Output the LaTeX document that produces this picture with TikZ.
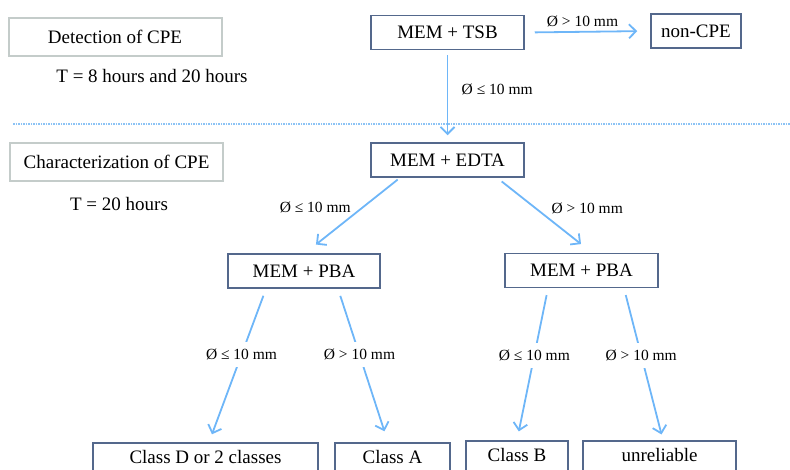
\documentclass[tikz,border=0pt]{standalone}
\usepackage{fontspec}
\setmainfont{Liberation Serif}
\usetikzlibrary{arrows.meta}

\definecolor{boxline}{RGB}{84,104,140}
\definecolor{tagline}{RGB}{196,204,202}
\definecolor{flow}{RGB}{110,182,248}
\definecolor{sepline}{RGB}{140,195,245}

\begin{document}
\begin{tikzpicture}[
  x=1pt, y=-1pt,
  font=\fontsize{19}{21}\selectfont,
  box/.style={
    draw=boxline,
    line width=1.5pt,
    minimum height=34pt,
    inner sep=2pt
  },
  tag/.style={draw=tagline, line width=2pt, minimum height=38pt},
  arrow/.style={-{Straight Barb[length=7pt,width=14pt]}, flow, line width=1.8pt},
  cond/.style={text=black, font=\fontsize{15.5}{17}\selectfont},
  gap/.style={cond, fill=white, inner xsep=1pt, inner ysep=7pt}
]
\useasboundingbox (0,0) rectangle (790,469);
\clip (0,0) rectangle (790,469);

% phases
\node[tag, minimum width=213pt] (detect) at (115,37) {Detection of CPE};
\node (tdetect) at (152,76) {T = 8 hours and 20 hours};
\node[tag, minimum width=213pt] (charac) at (116.5,162) {Characterization of CPE};
\node (tcharac) at (119,204) {T = 20 hours};
\draw[sepline, line width=1.5pt, densely dotted] (13,124) -- (790,124);

% media
\node[box, minimum width=153pt] (tsb) at (447.5,32.5) {MEM + TSB};
\node[box, minimum width=90pt] (noncpe) at (696,31) {non-CPE};
\node[box, minimum width=153pt] (edta) at (447.5,160) {MEM + EDTA};
\node[box, minimum width=152pt] (pbaL) at (304,271) {MEM + PBA};
\node[box, minimum width=153pt] (pbaR) at (581.5,270.5) {MEM + PBA};

% classes (the page cuts them at the bottom)
\node[box, minimum width=225pt, text depth=6pt] (classD) at (205.5,460) {Class D or 2 classes};
\node[box, minimum width=115pt, text depth=6pt] (classA) at (392.5,460) {Class A};
\node[box, minimum width=102pt, text depth=6pt] (classB) at (517,458) {Class B};
\node[box, minimum width=153pt, text depth=6pt] (unrel) at (659.5,458) {unreliable};

\draw[arrow, shorten <=10pt, shorten >=13pt] (tsb.east) -- node[cond, above=1pt, xshift=-5pt] {Ø > 10 mm} (noncpe.west);
\draw[arrow, shorten <=5pt, shorten >=7pt] (tsb.south) -- node[cond, right=10pt, pos=0.43] {Ø ≤ 10 mm} (edta.north);

\draw[arrow, shorten <=3pt, shorten >=14pt] ([xshift=-47.5pt]edta.south) -- node[cond, left=8pt, pos=0.39] {Ø ≤ 10 mm} ([xshift=1pt]pbaL.north);
\draw[arrow, shorten <=6pt, shorten >=14pt] ([xshift=49.5pt]edta.south) -- node[cond, right=11pt, pos=0.415] {Ø > 10 mm} ([xshift=10.5pt]pbaR.north);

\draw[arrow, shorten <=7.5pt, shorten >=8.5pt] ([xshift=-38pt]pbaL.south) -- node[gap, pos=0.43] {Ø ≤ 10 mm} ([xshift=3.5pt]classD.north);
\draw[arrow, shorten <=7.5pt, shorten >=11.5pt] ([xshift=34pt]pbaL.south) -- node[gap, pos=0.43] {Ø > 10 mm} ([xshift=-4.5pt]classA.north);
\draw[arrow, shorten <=7pt, shorten >=9pt] ([xshift=-33.5pt]pbaR.south) -- node[gap, pos=0.44] {Ø ≤ 10 mm} (classB.north);
\draw[arrow, shorten <=7pt, shorten >=6pt] ([xshift=42.5pt]pbaR.south) -- node[gap, pos=0.44] {Ø > 10 mm} ([xshift=3.5pt]unrel.north);

\end{tikzpicture}
\end{document}
